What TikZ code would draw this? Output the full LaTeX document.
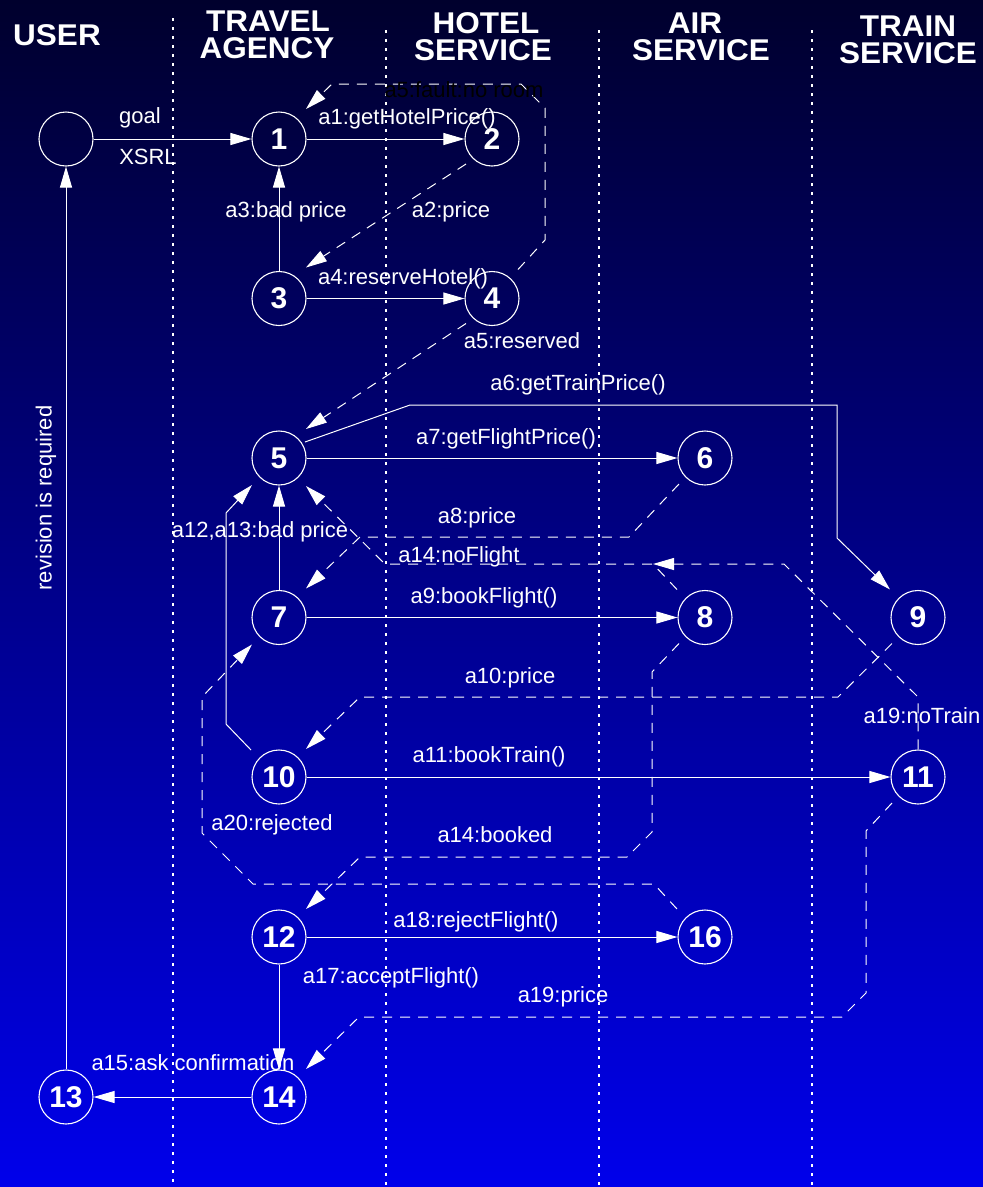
\documentclass[tikz,border=0pt]{standalone}
\usepackage{fontspec}
\setmainfont{Liberation Sans}
\newfontfamily\headfont[FakeStretch=1.05]{Liberation Sans}
\usetikzlibrary{arrows.meta}
\definecolor{skytop}{RGB}{0,0,45}
\definecolor{skybot}{RGB}{0,0,235}

\begin{document}
\begin{tikzpicture}[x=1pt,y=-1pt,
  state/.style={circle,draw=white,line width=1.1pt,minimum size=54pt,inner sep=0pt,
    text=white,font=\fontsize{30}{30}\selectfont\bfseries},
  msg/.style={draw=white,line width=1pt,-{Triangle[length=21pt,width=12pt]}},
  reply/.style={msg,dash pattern=on 10pt off 8pt},
  lbl/.style={text=white,font=\fontsize{22}{22}\selectfont,anchor=base,inner sep=0pt},
  lane/.style={draw=white,line width=1.2pt,dash pattern=on 3pt off 6pt},
  head/.style={text=white,font=\headfont\fontsize{30}{30}\selectfont\bfseries,anchor=base,inner sep=0pt}
]
% canvas and background gradient
\useasboundingbox (0,0) rectangle (983,1187);
\fill[top color=skytop,bottom color=skybot] (0,0) rectangle (983,1187);

% swimlane separators
\draw[lane] (173,18) -- (173,1187);
\draw[lane] (386,30) -- (386,1187);
\draw[lane] (599,30) -- (599,1187);
\draw[lane] (812,30) -- (812,1187);

% lane headers
\node[head] (hUser)    at (57,45.5) {USER};
\node[head] (hTravel)  at (268,31)  {TRAVEL};
\node[head] (hAgency)  at (267,58)  {AGENCY};
\node[head] (hHotel)   at (486,33)  {HOTEL};
\node[head] (hHotelS)  at (483,60)  {SERVICE};
\node[head] (hAir)     at (695,33)  {AIR};
\node[head] (hAirS)    at (701,60)  {SERVICE};
\node[head] (hTrain)   at (908,36)  {TRAIN};
\node[head] (hTrainS)  at (908,63)  {SERVICE};

% states
\node[state] (u)   at (66,139)    {};
\node[state] (n1)  at (279,139)   {1};
\node[state] (n2)  at (492,139)   {2};
\node[state] (n3)  at (279,298.5) {3};
\node[state] (n4)  at (492,298.5) {4};
\node[state] (n5)  at (279,458)   {5};
\node[state] (n6)  at (705,458)   {6};
\node[state] (n7)  at (279,617.5) {7};
\node[state] (n8)  at (705,617.5) {8};
\node[state] (n9)  at (918,617.5) {9};
\node[state] (n10) at (279,777)   {10};
\node[state] (n11) at (918,777)   {11};
\node[state] (n12) at (279,937)   {12};
\node[state] (n16) at (705,937)   {16};
\node[state] (n13) at (66,1097)   {13};
\node[state] (n14) at (279,1097)  {14};
\coordinate (nojoin) at (653,564);

% requests (solid)
\draw[msg] (u) -- (n1);
\draw[msg] (n1) -- (n2);
\draw[msg] (n3) -- (n1);
\draw[msg] (n3) -- (n4);
\draw[msg] ([shift={(26,-16)}]n5.center) -- (410,405) -- (837,405) -- (837,538) -- ([shift={(-28,-28)}]n9.center);
\draw[msg] (n5) -- (n6);
\draw[msg] (n7) -- (n5);
\draw[msg] (n7) -- (n8);
\draw[msg] ([shift={(-28,-27)}]n10.center) -- (226,724) -- (226,513) -- ([shift={(-27,27)}]n5.center);
\draw[msg] (n10) -- (n11);
\draw[msg] (n12) -- (n16);
\draw[msg] (n12) -- (n14);
\draw[msg] (n14) -- (n13);
\draw[msg] (n13) -- (u);

% replies (dashed)
\draw[reply] ([shift={(-26,25)}]n2.center) -- ([shift={(27,-31)}]n3.center);
\draw[reply] ([shift={(26,-29)}]n4.center) -- (545,240) -- (545,108) -- (521,84) -- (332,84) -- ([shift={(27,-30)}]n1.center);
\draw[reply] ([shift={(-26,25)}]n4.center) -- ([shift={(27,-29)}]n5.center);
\draw[reply] ([shift={(-26,26)}]n6.center) -- (629,537) -- (360,537) -- ([shift={(27,-29)}]n7.center);
\draw[reply] ([shift={(-28,-28)}]n8.center) -- (653,564) -- (385,564) -- ([shift={(27,28)}]n5.center);
\draw[reply] (n11) -- (918,697) -- (784,564) -- (nojoin);
\draw[reply] ([shift={(-26,26)}]n9.center) -- (838,697) -- (360,697) -- ([shift={(27,-28)}]n10.center);
\draw[reply] ([shift={(-26,26)}]n8.center) -- (652,672) -- (652,832) -- (627,857) -- (360,857) -- ([shift={(27,-28)}]n12.center);
\draw[reply] ([shift={(-28,-28)}]n16.center) -- (654,884) -- (253,884) -- (202,833) -- (202,697) -- ([shift={(-27,27)}]n7.center);
\draw[reply] ([shift={(-26,26)}]n11.center) -- (866,831) -- (866,993) -- (842,1017) -- (359,1017) -- ([shift={(27,-28)}]n14.center);

% message labels
\node[lbl] (lGoal) at (140,123) {goal};
\node[lbl] (lXsrl) at (148,164) {XSRL};
\node[lbl] (la1)  at (407,124) {a1:getHotelPrice()};
\node[lbl,text=black] (la5f) at (464,97) {a5:fault:no room};
\node[lbl] (la3)  at (286,217) {a3:bad price};
\node[lbl] (la2)  at (451,217) {a2:price};
\node[lbl] (la4)  at (403,284) {a4:reserveHotel()};
\node[lbl] (la5r) at (522,348) {a5:reserved};
\node[lbl] (la6)  at (578,390) {a6:getTrainPrice()};
\node[lbl] (la7)  at (506,444) {a7:getFlightPrice()};
\node[lbl] (la8)  at (477,523) {a8:price};
\node[lbl] (la12) at (260,537) {a12,a13:bad price};
\node[lbl] (la14n) at (459,562) {a14:noFlight};
\node[lbl] (la9)  at (484,603) {a9:bookFlight()};
\node[lbl] (la10) at (510,683) {a10:price};
\node[lbl] (la19n) at (922,723) {a19:noTrain};
\node[lbl] (la11) at (489,762) {a11:bookTrain()};
\node[lbl] (la20) at (272,830) {a20:rejected};
\node[lbl] (la14b) at (495,842) {a14:booked};
\node[lbl] (la18) at (476,927) {a18:rejectFlight()};
\node[lbl] (la17) at (391,983) {a17:acceptFlight()};
\node[lbl] (la19p) at (563,1002) {a19:price};
\node[lbl] (la15) at (193,1070) {a15:ask confirmation};
\node[lbl,anchor=center,rotate=90] (lRev) at (46,498) {revision is required};
\end{tikzpicture}
\end{document}
